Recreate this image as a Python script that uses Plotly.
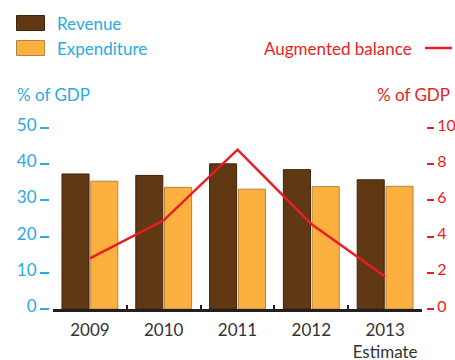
import plotly.graph_objects as go

# Data
years = ["2009", "2010", "2011", "2012", "2013"]
year_labels = ["2009", "2010", "2011", "2012", "2013<br>Estimate"]
revenue = [37.3, 36.9, 40.1, 38.5, 35.7]
expenditure = [35.3, 33.6, 33.1, 33.8, 33.9]
augmented_balance = [2.8, 4.9, 8.8, 4.7, 1.8]

left_ticks = [0, 10, 20, 30, 40, 50]
right_ticks = [0, 2, 4, 6, 8, 10]

BROWN = "#603813"
ORANGE = "#fbb040"
RED = "#ed1c24"
BLUE = "#29abe2"
FONT = "Lato"

W, H = 455, 360
ML, MR, MT, MB = 49, 29, 128, 51
PW = W - ML - MR
PH = H - MT - MB


def px(x):
    return (x - ML) / PW


def py(y):
    return (H - MB - y) / PH


fig = go.Figure()
fig.add_trace(go.Bar(
    x=years, y=revenue, name="Revenue",
    marker=dict(color=BROWN, line=dict(color="#3f240c", width=1)),
    yaxis="y",
))
fig.add_trace(go.Bar(
    x=years, y=expenditure, name="Expenditure",
    marker=dict(color=ORANGE, line=dict(color="#b5853f", width=1)),
    yaxis="y",
))
fig.add_trace(go.Scatter(
    x=years, y=augmented_balance, name="Augmented balance",
    mode="lines", line=dict(color=RED, width=2.5),
    yaxis="y2",
))

# Legend swatches and labels
shapes = [
    dict(type="rect", xref="paper", yref="paper",
         x0=px(16.5), x1=px(44.5), y0=py(30.5), y1=py(15.5),
         fillcolor=BROWN, line=dict(color="#3f240c", width=1)),
    dict(type="rect", xref="paper", yref="paper",
         x0=px(16.5), x1=px(44.5), y0=py(55.5), y1=py(40.5),
         fillcolor=ORANGE, line=dict(color="#b5853f", width=1)),
    dict(type="line", xref="paper", yref="paper",
         x0=px(425), x1=px(452), y0=py(48), y1=py(48),
         line=dict(color=RED, width=2.5)),
]

annotations = [
    dict(text="Revenue", x=px(55), y=py(23), xref="paper", yref="paper",
         xanchor="left", yanchor="middle", showarrow=False,
         font=dict(family=FONT, size=17, color=BLUE)),
    dict(text="Expenditure", x=px(55), y=py(48), xref="paper", yref="paper",
         xanchor="left", yanchor="middle", showarrow=False,
         font=dict(family=FONT, size=17, color=BLUE)),
    dict(text="Augmented balance", x=px(414), y=py(48), xref="paper", yref="paper",
         xanchor="right", yanchor="middle", showarrow=False,
         font=dict(family=FONT, size=17, color=RED)),
    dict(text="% of GDP", x=px(15), y=py(94), xref="paper", yref="paper",
         xanchor="left", yanchor="middle", showarrow=False,
         font=dict(family=FONT, size=17, color=BLUE)),
    dict(text="% of GDP", x=px(452), y=py(94), xref="paper", yref="paper",
         xanchor="right", yanchor="middle", showarrow=False,
         font=dict(family=FONT, size=17, color=RED)),
]

fig.update_layout(
    width=W, height=H,
    margin=dict(l=ML, r=MR, t=MT, b=MB, pad=0, autoexpand=False),
    paper_bgcolor="white", plot_bgcolor="white",
    barmode="group", bargap=0.22, bargroupgap=0.06,
    showlegend=False,
    font=dict(family=FONT),
    shapes=shapes, annotations=annotations,
    xaxis=dict(
        domain=[px(53), px(422)], automargin=False, tickangle=0,
        tickmode="array", tickvals=years, ticktext=year_labels,
        tickson="boundaries", ticks="inside", ticklen=4, tickwidth=1.5,
        tickcolor="#231f20", ticklabelstandoff=4,
        showline=True, linecolor="#231f20", linewidth=2.5,
        showgrid=False, zeroline=False,
        tickfont=dict(family=FONT, size=17, color="#333333"),
        fixedrange=True,
    ),
    yaxis=dict(
        range=[0, 50], anchor="free", position=0, automargin=False,
        tickvals=left_ticks, ticks="outside", ticklen=9, tickwidth=1.5,
        tickcolor=BLUE, showline=False, showgrid=False, zeroline=False,
        ticklabelshift=-3,
        tickfont=dict(family=FONT, size=17, color=BLUE),
    ),
    yaxis2=dict(
        range=[0, 10], anchor="free", position=1, overlaying="y", side="right",
        automargin=False,
        tickvals=right_ticks, ticks="outside", ticklen=7, tickwidth=1.5,
        tickcolor=RED, showline=False, showgrid=False, zeroline=False,
        ticklabelshift=-3,
        tickfont=dict(family=FONT, size=16, color=RED),
    ),
)

fig.write_html("out.html")
